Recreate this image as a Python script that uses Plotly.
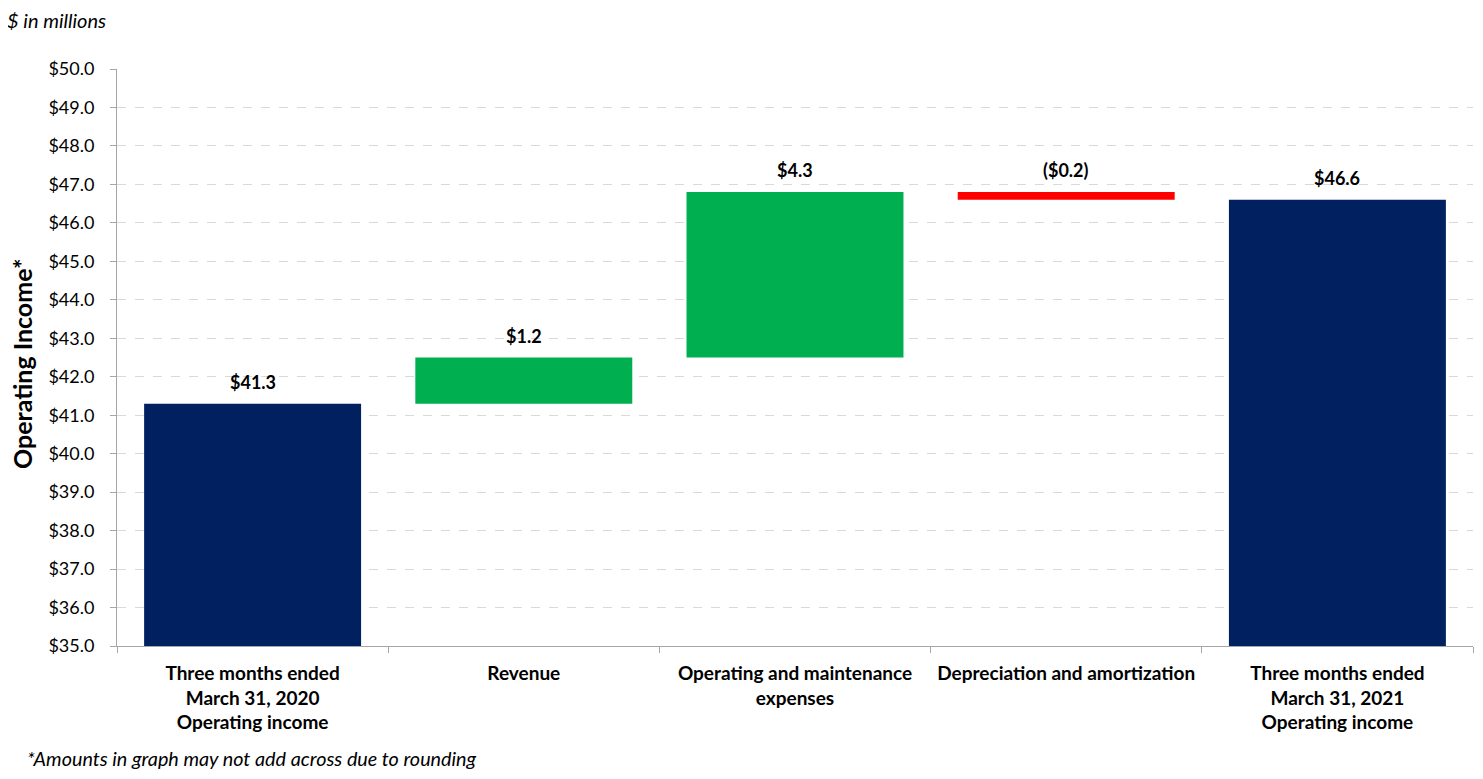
import plotly.graph_objects as go

categories = [
    "Three months ended<br>March 31, 2020<br>Operating income",
    "Revenue",
    "Operating and maintenance<br>expenses",
    "Depreciation and amortization",
    "Three months ended<br>March 31, 2021<br>Operating income",
]
values = [41.3, 1.2, 4.3, -0.2, 46.6]
measures = ["absolute", "relative", "relative", "relative", "total"]
labels = ["$41.3", "$1.2", "$4.3", "($0.2)", "$46.6"]
y_ticks = [35 + i for i in range(16)]
y_tick_text = [f"${v:.1f}" for v in y_ticks]

FONT = "Lato, 'Open Sans', sans-serif"
NAVY = "#002060"
GREEN = "#00B050"
RED = "#FF0000"

fig = go.Figure()
fig.add_trace(go.Waterfall(
    x=categories,
    y=values,
    measure=measures,
    increasing=dict(marker=dict(color=GREEN)),
    decreasing=dict(marker=dict(color=RED)),
    totals=dict(marker=dict(color=NAVY)),
    connector=dict(visible=False),
    base=0,
    showlegend=False,
    hoverinfo="skip",
))

# label annotations above each bar
running = 0.0
tops = []
for m, v in zip(measures, values):
    if m == "absolute":
        running = v
        tops.append(v)
    elif m == "total":
        tops.append(running)
    else:
        prev = running
        running = running + v
        tops.append(max(prev, running))

annotations = []
for c, t, lab in zip(categories, tops, labels):
    annotations.append(dict(
        x=c, y=t, xref="x", yref="y", text=f"<b>{lab}</b>",
        showarrow=False, yanchor="bottom", yshift=9,
        font=dict(family=FONT, size=18, color="#000000"),
    ))

# plot area: x 117..1473, y 69..646 in window pixels
PW = 1356.0
PH = 577.0
annotations.append(dict(
    x=(5 - 117) / PW, y=1 + (69 - 6) / PH, xref="paper", yref="paper",
    xanchor="left", yanchor="top",
    text="<i>$ in millions</i>", showarrow=False,
    font=dict(family=FONT, size=20, color="#000000"),
))
annotations.append(dict(
    x=(25 - 117) / PW, y=-(772 - 646) / PH, xref="paper", yref="paper",
    xanchor="left", yanchor="bottom",
    text="<i>*Amounts in graph may not add across due to rounding</i>", showarrow=False,
    font=dict(family=FONT, size=19.8, color="#000000"),
))
annotations.append(dict(
    x=(22 - 117) / PW, y=(646 - 364) / PH, xref="paper", yref="paper",
    xanchor="center", yanchor="middle", textangle=-90,
    text="<b>Operating Income*</b>", showarrow=False,
    font=dict(family=FONT, size=25, color="#000000"),
))

# page body has 8px margin; compensate so the plot area lands on window pixels
fig.update_layout(
    width=1467, height=763,
    margin=dict(l=109, r=2, t=61, b=125),
    paper_bgcolor="white", plot_bgcolor="white",
    bargap=0.2,
    font=dict(family=FONT, size=16, color="#000000"),
    annotations=annotations,
    xaxis=dict(
        type="category",
        tickvals=categories,
        ticktext=[f"<b>{c}</b>" for c in categories],
        showline=True, linecolor="#A6A6A6", linewidth=1,
        ticks="outside", tickson="boundaries", ticklen=6, tickcolor="#A6A6A6",
        tickfont=dict(family=FONT, size=19, color="#000000"),
        ticklabelstandoff=10,
        showgrid=False,
    ),
    yaxis=dict(
        range=[35, 50],
        tickvals=y_ticks, ticktext=y_tick_text,
        showline=True, linecolor="#A6A6A6", linewidth=1,
        ticks="outside", ticklen=6, tickcolor="#A6A6A6",
        showgrid=True, gridcolor="#D9D9D9", griddash="dash", gridwidth=1,
        tickfont=dict(family=FONT, size=18, color="#000000"),
        ticklabelstandoff=12,
        zeroline=False,
    ),
)

fig.write_html("out.html")
